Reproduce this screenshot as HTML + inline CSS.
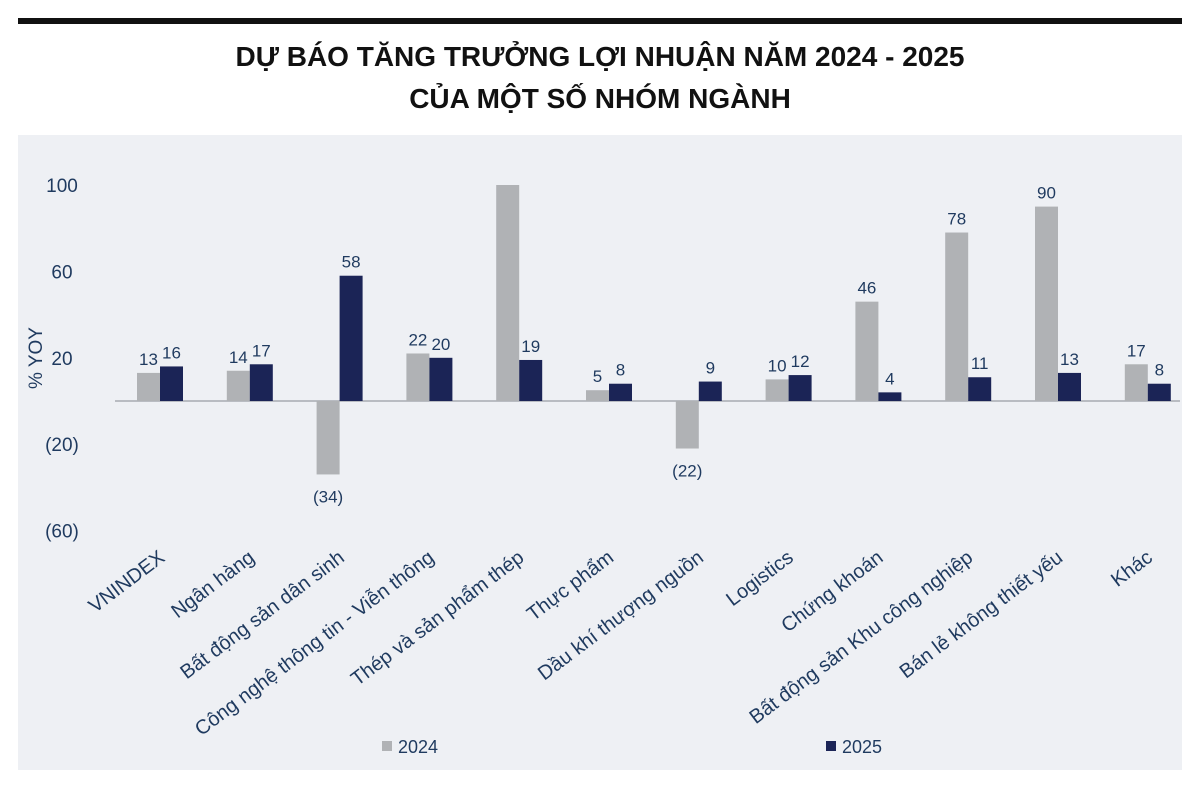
<!DOCTYPE html>
<html><head><meta charset="utf-8"><style>
body{margin:0;background:#fff;width:1200px;height:785px;overflow:hidden;font-family:"Liberation Sans",sans-serif}
</style></head><body>
<svg width="1200" height="785">
<rect x="18" y="18" width="1164" height="6" fill="#111"/>
<text x="600" y="66" text-anchor="middle" font-size="28" font-weight="bold" fill="#111">DỰ BÁO TĂNG TRƯỞNG LỢI NHUẬN NĂM 2024 - 2025</text>
<text x="600" y="108" text-anchor="middle" font-size="28" font-weight="bold" fill="#111">CỦA MỘT SỐ NHÓM NGÀNH</text>
<rect x="18" y="135" width="1164" height="635" fill="#eef0f4"/>
<g id="g"></g>
<text transform="translate(42,358) rotate(-90)" text-anchor="middle" font-size="19" fill="#1f3a5f">% YOY</text>
<rect x="382" y="741" width="10" height="10" fill="#b0b2b5"/>
<text x="398" y="753" font-size="18" fill="#1f3a5f">2024</text>
<rect x="826" y="741" width="10" height="10" fill="#1b2456"/>
<text x="842" y="753" font-size="18" fill="#1f3a5f">2025</text>
</svg>
<script>
const categories=["VNINDEX","Ngân hàng","Bất động sản dân sinh","Công nghệ thông tin - Viễn thông","Thép và sản phẩm thép","Thực phẩm","Dầu khí thượng nguồn","Logistics","Chứng khoán","Bất động sản Khu công nghiệp","Bán lẻ không thiết yếu","Khác"];
const s2024=[13,14,-34,22,100,5,-22,10,46,78,90,17];
const s2025=[16,17,58,20,19,8,9,12,4,11,13,8];
const showLabel2024=[true,true,true,true,false,true,true,true,true,true,true,true];
const yTicks=[100,60,20,-20,-60];
const NS="http://www.w3.org/2000/svg";
const g=document.getElementById('g');
const y=v=>401-v*2.16;
const cx=i=>160+i*89.8;
const bw=23;
function mk(t,a){const e=document.createElementNS(NS,t);for(const k in a)e.setAttribute(k,a[k]);g.appendChild(e);return e;}
const fmt=v=>v<0?"("+(-v)+")":String(v);
yTicks.forEach(v=>{const t=mk('text',{x:62,y:y(v)+7,'text-anchor':'middle','font-size':19,fill:'#1f3a5f'});t.textContent=fmt(v);

});
const base=mk('line',{x1:115,x2:1180,y1:401,y2:401,stroke:'#b9bcc2','stroke-width':2});


categories.forEach((c,i)=>{
 [[s2024[i],'#b0b2b5',-bw,showLabel2024[i],'2024'],[s2025[i],'#1b2456',0,true,'2025']].forEach(([v,col,off,sh,yr])=>{
  const x=cx(i)+off;
  const r=mk('rect',{x:x,y:Math.min(y(v),401),width:bw,height:Math.abs(y(v)-401),fill:col});
  
  
  if(sh){const ly=v>=0?y(v)-8:y(v)+28;
   const t=mk('text',{x:x+bw/2,y:ly,'text-anchor':'middle','font-size':17,fill:'#1f3a5f'});t.textContent=fmt(v);
   
   }
 });
 const t=mk('text',{transform:`translate(${cx(i)+6},560) rotate(-37)`,'text-anchor':'end','font-size':20,fill:'#1f3a5f'});
 t.textContent=c;
 
 
});
</script>
</body></html>
